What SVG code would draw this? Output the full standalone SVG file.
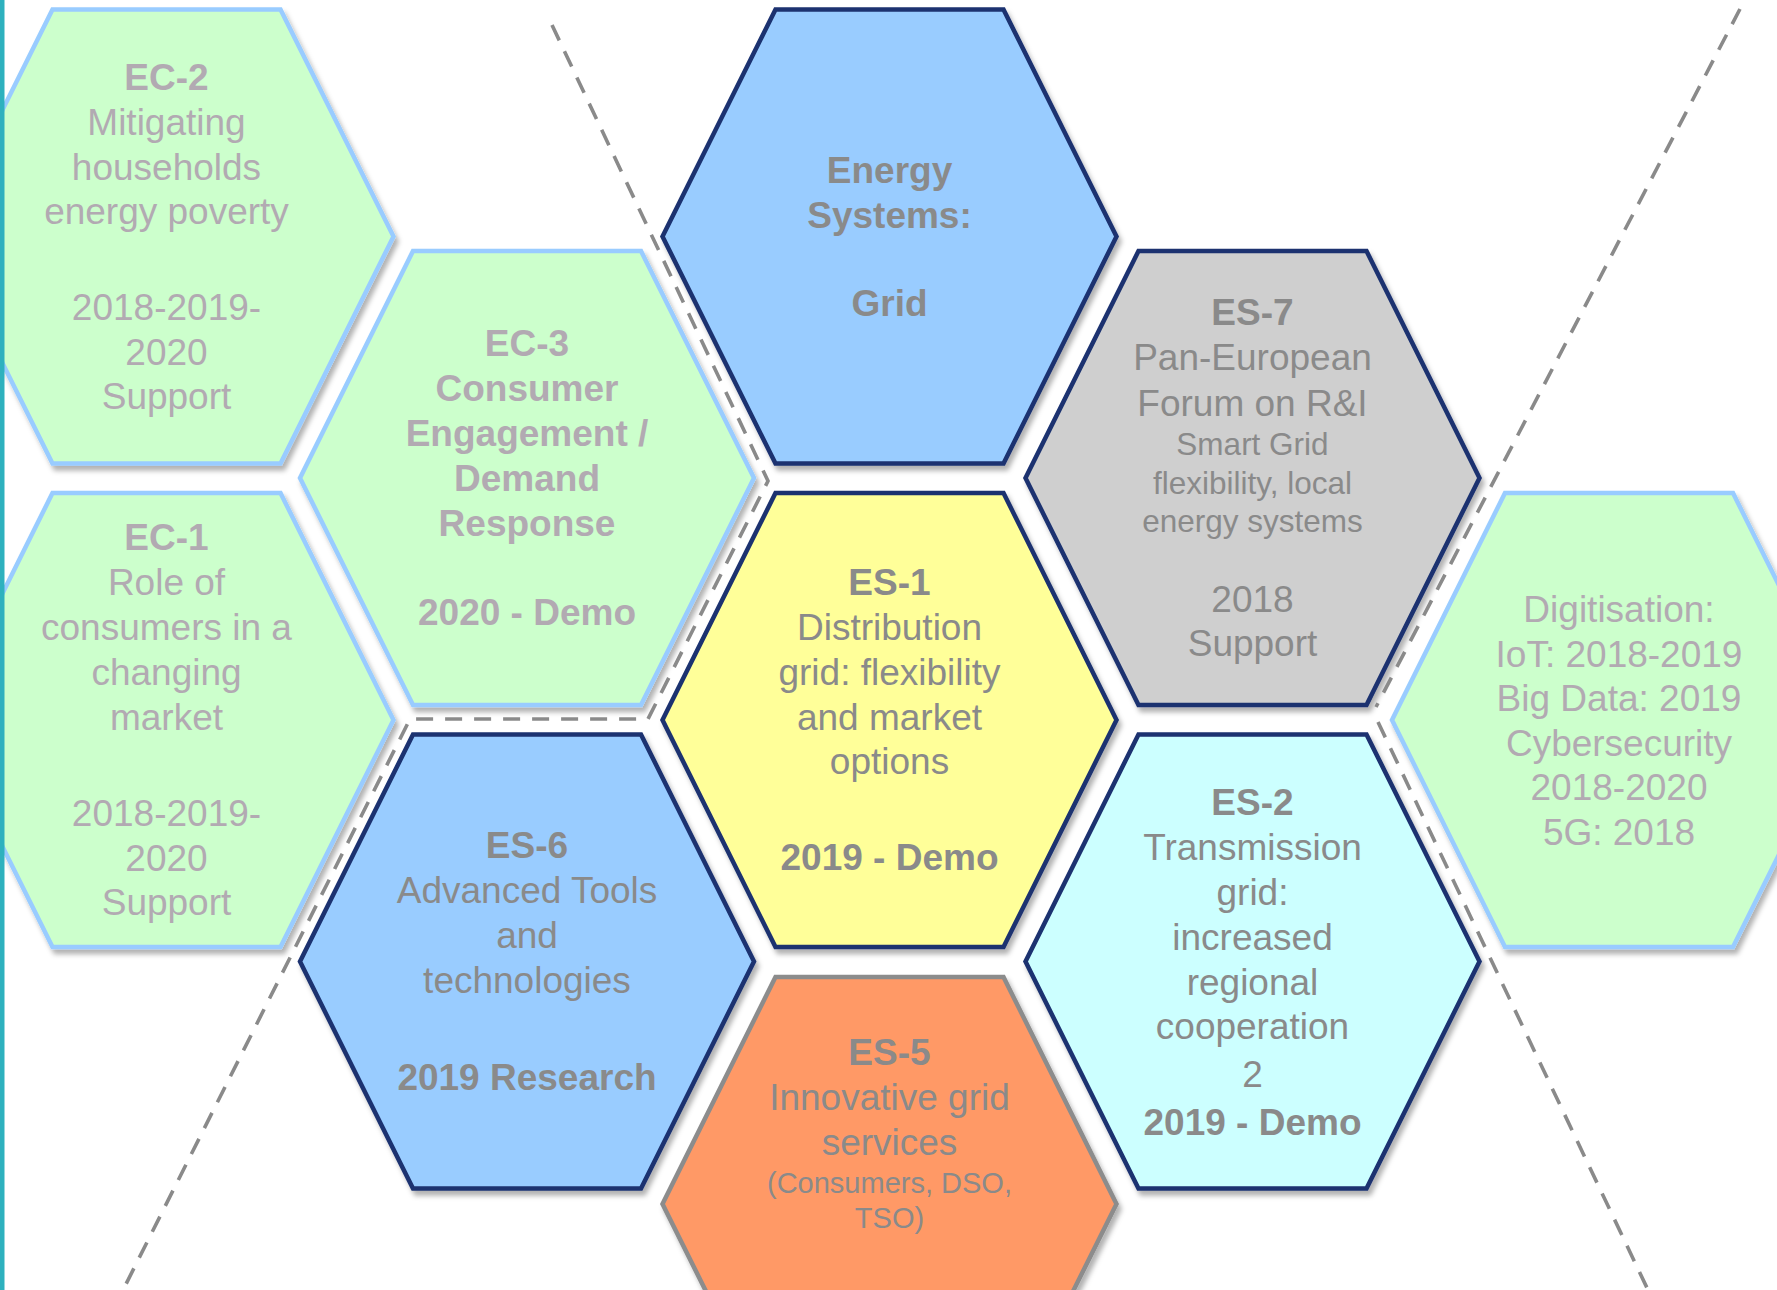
<svg xmlns="http://www.w3.org/2000/svg" width="1777" height="1290" viewBox="0 0 1777 1290">
  <defs>
    <filter id="sh" x="-10%" y="-10%" width="120%" height="120%">
      <feDropShadow dx="3" dy="5" stdDeviation="2.5" flood-color="#000" flood-opacity="0.3"/>
    </filter>
    <style>
      .hex { stroke-width: 4.5; stroke-linejoin: miter; filter: url(#sh); }
      .green { fill: #CCFFCC; stroke: #99CCFF; }
      .blue { fill: #99CCFF; stroke: #1B3270; }
      .yellow { fill: #FFFF99; stroke: #1B3270; }
      .grey { fill: #CFCFCF; stroke: #1B3270; }
      .cyan { fill: #CCFFFF; stroke: #1B3270; }
      .orange { fill: #FF9966; stroke: #8C8C8C; }
      text { font-family: "Liberation Sans", Arial, sans-serif; font-size: 37px; text-anchor: middle; }
      .lt { fill: #B2AAB2; }
      .dk { fill: #8A8A8A; }
      .b { font-weight: bold; }
      .s1 { font-size: 31.5px; }
      .s2 { font-size: 29px; }
      .dash { fill: none; stroke: #8A8A8A; stroke-width: 3.6; stroke-dasharray: 17 12; }
    </style>
  </defs>
  <rect x="0" y="0" width="1777" height="1290" fill="#FFFFFF"/>

  <g id="EC-2">
    <polygon class="hex green" points="52.5,9.5 280.5,9.5 393.5,236.5 280.5,463.5 52.5,463.5 -60.5,236.5"/>
    <text class="lt b" x="166.5" y="90">EC-2</text>
    <text class="lt" x="166.5" y="135">Mitigating</text>
    <text class="lt" x="166.5" y="180">households</text>
    <text class="lt" x="166.5" y="224">energy poverty</text>
    <text class="lt" x="166.5" y="320">2018-2019-</text>
    <text class="lt" x="166.5" y="365">2020</text>
    <text class="lt" x="166.5" y="409">Support</text>
  </g>

  <g id="EC-1">
    <polygon class="hex green" points="52.5,493 280.5,493 393.5,720 280.5,947 52.5,947 -60.5,720"/>
    <text class="lt b" x="166.5" y="550">EC-1</text>
    <text class="lt" x="166.5" y="595">Role of</text>
    <text class="lt" x="166.5" y="640">consumers in a</text>
    <text class="lt" x="166.5" y="685">changing</text>
    <text class="lt" x="166.5" y="730">market</text>
    <text class="lt" x="166.5" y="826">2018-2019-</text>
    <text class="lt" x="166.5" y="871">2020</text>
    <text class="lt" x="166.5" y="915">Support</text>
  </g>

  <g id="EC-3">
    <polygon class="hex green" points="413,251 641,251 754,478 641,705 413,705 300,478"/>
    <text class="lt b" x="527" y="356">EC-3</text>
    <text class="lt b" x="527" y="401">Consumer</text>
    <text class="lt b" x="527" y="446">Engagement /</text>
    <text class="lt b" x="527" y="491">Demand</text>
    <text class="lt b" x="527" y="536">Response</text>
    <text class="lt b" x="527" y="625">2020 - Demo</text>
  </g>

  <g id="ES-6">
    <polygon class="hex blue" points="413,734.5 641,734.5 754,961.5 641,1188.5 413,1188.5 300,961.5"/>
    <text class="dk b" x="527" y="858">ES-6</text>
    <text class="dk" x="527" y="903">Advanced Tools</text>
    <text class="dk" x="527" y="948">and</text>
    <text class="dk" x="527" y="993">technologies</text>
    <text class="dk b" x="527" y="1090">2019 Research</text>
  </g>

  <g id="Grid">
    <polygon class="hex blue" points="775.5,9.5 1003.5,9.5 1116.5,236.5 1003.5,463.5 775.5,463.5 662.5,236.5"/>
    <text class="dk b" x="889.5" y="183">Energy</text>
    <text class="dk b" x="889.5" y="228">Systems:</text>
    <text class="dk b" x="889.5" y="316">Grid</text>
  </g>

  <g id="ES-1">
    <polygon class="hex yellow" points="775.5,493 1003.5,493 1116.5,720 1003.5,947 775.5,947 662.5,720"/>
    <text class="dk b" x="889.5" y="595">ES-1</text>
    <text class="dk" x="889.5" y="640">Distribution</text>
    <text class="dk" x="889.5" y="685">grid: flexibility</text>
    <text class="dk" x="889.5" y="730">and market</text>
    <text class="dk" x="889.5" y="774">options</text>
    <text class="dk b" x="889.5" y="870">2019 - Demo</text>
  </g>

  <g id="ES-5">
    <polygon class="hex orange" points="775.5,977 1003.5,977 1116.5,1204 1003.5,1431 775.5,1431 662.5,1204"/>
    <text class="dk b" x="889.5" y="1065">ES-5</text>
    <text class="dk" x="889.5" y="1110">Innovative grid</text>
    <text class="dk" x="889.5" y="1155">services</text>
    <text class="dk s2" x="889.5" y="1193">(Consumers, DSO,</text>
    <text class="dk s2" x="889.5" y="1228">TSO)</text>
  </g>

  <g id="ES-7">
    <polygon class="hex grey" points="1138.5,251 1366.5,251 1479.5,478 1366.5,705 1138.5,705 1025.5,478"/>
    <text class="dk b" x="1252.5" y="325">ES-7</text>
    <text class="dk" x="1252.5" y="370">Pan-European</text>
    <text class="dk" x="1252.5" y="416">Forum on R&amp;I</text>
    <text class="dk s1" x="1252.5" y="455">Smart Grid</text>
    <text class="dk s1" x="1252.5" y="494">flexibility, local</text>
    <text class="dk s1" x="1252.5" y="532">energy systems</text>
    <text class="dk" x="1252.5" y="612">2018</text>
    <text class="dk" x="1252.5" y="656">Support</text>
  </g>

  <g id="ES-2">
    <polygon class="hex cyan" points="1138.5,734.5 1366.5,734.5 1479.5,961.5 1366.5,1188.5 1138.5,1188.5 1025.5,961.5"/>
    <text class="dk b" x="1252.5" y="815">ES-2</text>
    <text class="dk" x="1252.5" y="860">Transmission</text>
    <text class="dk" x="1252.5" y="905">grid:</text>
    <text class="dk" x="1252.5" y="950">increased</text>
    <text class="dk" x="1252.5" y="995">regional</text>
    <text class="dk" x="1252.5" y="1039">cooperation</text>
    <text class="dk" x="1252.5" y="1087">2</text>
    <text class="dk b" x="1252.5" y="1135">2019 - Demo</text>
  </g>

  <g id="Digitisation">
    <polygon class="hex green" points="1505,493 1733,493 1846,720 1733,947 1505,947 1392,720"/>
    <text class="lt" x="1619" y="622">Digitisation:</text>
    <text class="lt" x="1619" y="667">IoT: 2018-2019</text>
    <text class="lt" x="1619" y="711">Big Data: 2019</text>
    <text class="lt" x="1619" y="756">Cybersecurity</text>
    <text class="lt" x="1619" y="800">2018-2020</text>
    <text class="lt" x="1619" y="845">5G: 2018</text>
  </g>

  <g id="connectors">
    <polyline class="dash" points="552,25 768,481 648,719 410,719 123,1290"/>
    <polyline class="dash" points="1740,9 1376,707"/>
    <polyline class="dash" points="1378,722 1648,1290"/>
  </g>

  <rect x="0" y="0" width="4.5" height="1290" fill="#2EB1BE"/>
</svg>
